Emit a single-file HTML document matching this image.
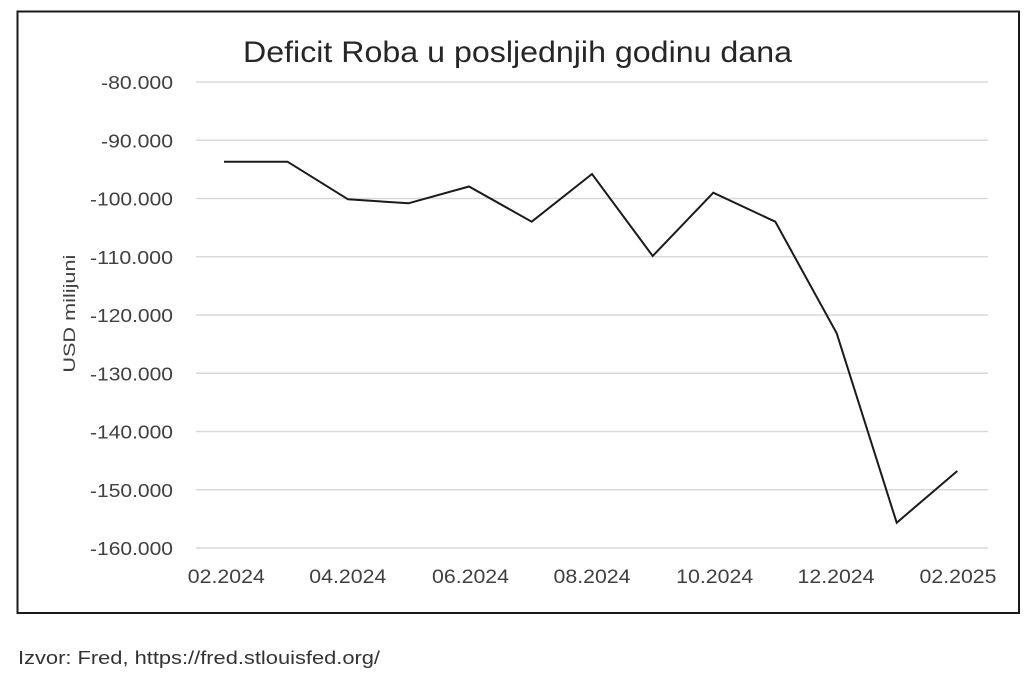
<!DOCTYPE html>
<html>
<head>
<meta charset="utf-8">
<style>
  html, body { margin: 0; padding: 0; background: #ffffff; }
  svg { display: block; }
  text { font-family: "Liberation Sans", "DejaVu Sans", sans-serif; }
</style>
</head>
<body>
<svg width="1024" height="675" viewBox="0 0 1024 675" xmlns="http://www.w3.org/2000/svg">
  <rect x="0" y="0" width="1024" height="675" fill="#ffffff"/>
  <!-- chart border -->
  <rect x="17.5" y="11.5" width="1501" height="601" fill="none" stroke="#1a1a1a" stroke-width="2" transform="scale(1)" style="display:none"/>
  <rect x="17.5" y="11.5" width="1001.5" height="601.5" fill="none" stroke="#1a1a1a" stroke-width="2"/>

  <!-- title -->
  <text x="243" y="62" font-size="30" fill="#262626" textLength="549" lengthAdjust="spacingAndGlyphs">Deficit Roba u posljednjih godinu dana</text>

  <!-- gridlines -->
  <g stroke="#d9d9d9" stroke-width="1.5">
    <line x1="196" y1="82" x2="988" y2="82"/>
    <line x1="196" y1="140.25" x2="988" y2="140.25"/>
    <line x1="196" y1="198.5" x2="988" y2="198.5"/>
    <line x1="196" y1="256.75" x2="988" y2="256.75"/>
    <line x1="196" y1="315" x2="988" y2="315"/>
    <line x1="196" y1="373.25" x2="988" y2="373.25"/>
    <line x1="196" y1="431.5" x2="988" y2="431.5"/>
    <line x1="196" y1="489.75" x2="988" y2="489.75"/>
    <line x1="196" y1="548" x2="988" y2="548"/>
  </g>

  <!-- y labels -->
  <g font-size="18.5" fill="#404040">
    <text x="101" y="89" textLength="72" lengthAdjust="spacingAndGlyphs">-80.000</text>
    <text x="101" y="147.25" textLength="72" lengthAdjust="spacingAndGlyphs">-90.000</text>
    <text x="90" y="205.5" textLength="83" lengthAdjust="spacingAndGlyphs">-100.000</text>
    <text x="90" y="263.75" textLength="83" lengthAdjust="spacingAndGlyphs">-110.000</text>
    <text x="90" y="322" textLength="83" lengthAdjust="spacingAndGlyphs">-120.000</text>
    <text x="90" y="380.25" textLength="83" lengthAdjust="spacingAndGlyphs">-130.000</text>
    <text x="90" y="438.5" textLength="83" lengthAdjust="spacingAndGlyphs">-140.000</text>
    <text x="90" y="496.75" textLength="83" lengthAdjust="spacingAndGlyphs">-150.000</text>
    <text x="90" y="555" textLength="83" lengthAdjust="spacingAndGlyphs">-160.000</text>
  </g>

  <!-- y axis title -->
  <g transform="translate(75,314) rotate(-90)">
    <text x="-58.7" y="0" font-size="17" fill="#404040" textLength="118" lengthAdjust="spacingAndGlyphs">USD milijuni</text>
  </g>

  <!-- x labels -->
  <g font-size="19" fill="#404040">
    <text x="187.8" y="583" textLength="77" lengthAdjust="spacingAndGlyphs">02.2024</text>
    <text x="309.3" y="583" textLength="77" lengthAdjust="spacingAndGlyphs">04.2024</text>
    <text x="432" y="583" textLength="77" lengthAdjust="spacingAndGlyphs">06.2024</text>
    <text x="553.5" y="583" textLength="77" lengthAdjust="spacingAndGlyphs">08.2024</text>
    <text x="676.2" y="583" textLength="77" lengthAdjust="spacingAndGlyphs">10.2024</text>
    <text x="797.5" y="583" textLength="77" lengthAdjust="spacingAndGlyphs">12.2024</text>
    <text x="919.5" y="583" textLength="77" lengthAdjust="spacingAndGlyphs">02.2025</text>
  </g>

  <!-- data line -->
  <polyline fill="none" stroke="#1a1a1a" stroke-width="2" stroke-linejoin="miter"
    points="224,161.7 287.5,161.7 348,199.3 408.5,203.3 469,186.5 531.7,221.7 592,174 652.7,256 713.3,192.7 775.3,221.7 836.7,333.3 896.7,522.7 957.3,471"/>

  <!-- footer -->
  <text x="18" y="664" font-size="18" fill="#333333" textLength="362" lengthAdjust="spacingAndGlyphs">Izvor: Fred, https://fred.stlouisfed.org/</text>
</svg>
</body>
</html>
